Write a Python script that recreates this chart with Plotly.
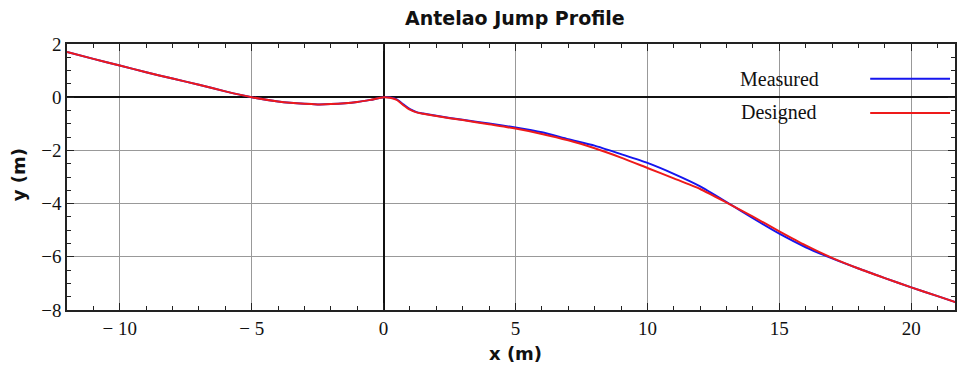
import plotly.graph_objects as go

# Designed profile (x in m, y in m)
x_designed = [-12, -11, -10, -9, -8, -7, -6, -5, -4, -3, -2.5, -2, -1, -0.5, 0,
              0.25, 0.5, 0.75, 1.0, 1.25, 1.5, 2, 3, 4, 5, 6, 7, 8, 9, 10, 11, 12,
              13, 14, 15, 16, 17, 18, 19, 20, 21, 21.7]
y_designed = [1.70, 1.44, 1.19, 0.94, 0.70, 0.47, 0.22, 0.0, -0.16, -0.25, -0.27, -0.26, -0.18, -0.10, 0.0,
              -0.02, -0.10, -0.30, -0.47, -0.57, -0.62, -0.71, -0.86, -1.02, -1.18, -1.38, -1.62, -1.92, -2.27, -2.66, -3.05, -3.45,
              -3.96, -4.49, -5.04, -5.57, -6.04, -6.44, -6.80, -7.15, -7.48, -7.71]

# Measured profile
x_measured = [-12, -11, -10, -9, -8, -7, -6, -5, -4, -3, -2.5, -2, -1, -0.5, 0,
              0.25, 0.5, 0.75, 1.0, 1.25, 1.5, 2, 3, 4, 5, 6, 7, 8, 9, 10, 11, 12,
              13, 14, 15, 16, 17, 18, 19, 20, 21, 21.7]
y_measured = [1.70, 1.44, 1.19, 0.94, 0.70, 0.47, 0.22, 0.0, -0.16, -0.25, -0.27, -0.26, -0.18, -0.10, 0.0,
              -0.01, -0.08, -0.27, -0.45, -0.56, -0.61, -0.70, -0.85, -0.99, -1.14, -1.32, -1.58, -1.82, -2.14, -2.47, -2.88, -3.35,
              -3.94, -4.55, -5.13, -5.64, -6.06, -6.44, -6.80, -7.15, -7.48, -7.71]

x_ticks = [-10, -5, 0, 5, 10, 15, 20]
y_ticks = [-8, -6, -4, -2, 0, 2]
legend_names = ["Measured", "Designed"]
legend_colors = ["#1515ee", "#ee1a1a"]

fig = go.Figure()
fig.add_trace(go.Scatter(x=x_measured, y=y_measured, mode="lines", name="Measured",
                         line=dict(color=legend_colors[0], width=2, shape="spline", smoothing=0.6)))
fig.add_trace(go.Scatter(x=x_designed, y=y_designed, mode="lines", name="Designed",
                         line=dict(color=legend_colors[1], width=2, shape="spline", smoothing=0.6)))

tickfont = dict(family="Liberation Serif", size=19, color="#111")
boldfont = dict(family="DejaVu Sans", size=18, color="#111")

fig.update_layout(
    width=957, height=366,
    margin=dict(l=67, r=0, t=44, b=56),
    paper_bgcolor="white", plot_bgcolor="white",
    showlegend=False,
    title=dict(text="<b>Antelao Jump Profile</b>", x=0.538, xanchor="center", y=0.95, yanchor="middle",
               font=dict(family="DejaVu Sans", size=19, color="#111")),
    xaxis=dict(range=[-12, 21.66], tickvals=x_ticks, ticktext=[str(v).replace("-", "\u2212 ") for v in x_ticks],
               tickfont=tickfont, ticks="inside", ticklen=7, tickcolor="#222",
               minor=dict(dtick=1, tick0=0, ticks="inside", ticklen=4, tickcolor="#222", showgrid=False),
               showline=True, linecolor="#222", linewidth=1.5, mirror="ticks",
               showgrid=True, gridcolor="#999", gridwidth=1,
               zeroline=True, zerolinecolor="#111", zerolinewidth=1.5),
    yaxis=dict(range=[-8, 2], tickvals=y_ticks, ticktext=[str(v).replace("-", "\u2212") for v in y_ticks],
               tickfont=tickfont, ticks="inside", ticklen=7, tickcolor="#222",
               minor=dict(dtick=0.5, tick0=0, ticks="inside", ticklen=4, tickcolor="#222", showgrid=False),
               showline=True, linecolor="#222", linewidth=1.5, mirror="ticks",
               showgrid=True, gridcolor="#999", gridwidth=1,
               zeroline=True, zerolinecolor="#111", zerolinewidth=1.5),
)

# Axis titles
fig.add_annotation(xref="paper", yref="paper", x=0.505, y=-0.163, text="<b>x (m)</b>", showarrow=False,
                   xanchor="center", yanchor="middle", font=boldfont)
fig.add_annotation(xref="paper", yref="paper", x=-0.055, y=0.507, text="<b>y (m)</b>", showarrow=False,
                   xanchor="center", yanchor="middle", textangle=-90, font=boldfont)

# Legend (text left of line, as in the reference)
leg_y = [0.869, 0.741]
for name, col, ly in zip(legend_names, legend_colors, leg_y):
    fig.add_annotation(xref="paper", yref="paper", x=0.802, y=ly, text=name, showarrow=False,
                       xanchor="center", yanchor="middle",
                       font=dict(family="Liberation Serif", size=20, color="#111"))
    fig.add_shape(type="line", xref="paper", yref="paper", x0=0.9045, x1=0.9944, y0=ly, y1=ly,
                  line=dict(color=col, width=2))

fig.write_html("out.html")
